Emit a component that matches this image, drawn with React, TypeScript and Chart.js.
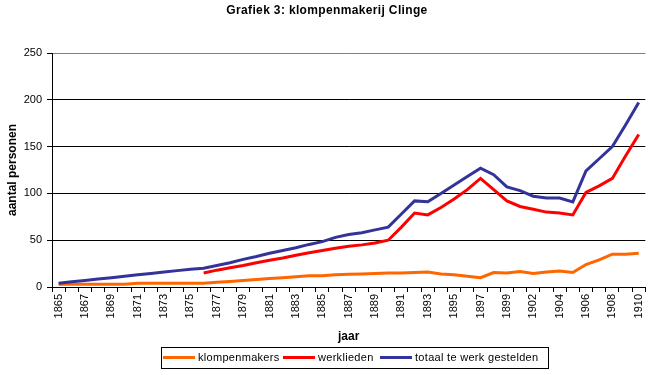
import React, { useEffect, useRef } from "react";
import { Chart, registerables } from "chart.js";

Chart.register(...registerables);

const FONT = '"Liberation Sans", Arial, Helvetica, sans-serif';

const chartTitle = "Grafiek 3: klompenmakerij Clinge";
const xTitle = "jaar";
const yTitle = "aantal personen";

const years = [
  "1865", "1866", "1867", "1868", "1869", "1870", "1871", "1872", "1873", "1874",
  "1875", "1876", "1877", "1878", "1879", "1880", "1881", "1882", "1883", "1884",
  "1885", "1886", "1887", "1888", "1889", "1890", "1891", "1892", "1893", "1894",
  "1895", "1896", "1897", "1898", "1899", "1900", "1902", "1903", "1904", "1905",
  "1906", "1907", "1908", "1909", "1910",
];

const klompenmakers = [
  3, 3, 3, 3, 3, 3, 4, 4, 4, 4,
  4, 4, 5, 6, 7, 8, 9, 10, 11, 12,
  12, 13, 13.5, 14, 14.5, 15, 15, 15.5, 16, 14,
  13, 11.5, 10, 15.5, 15, 16.5, 14.5, 16, 17, 15.5,
  24, 29, 35, 35, 36,
];

const werklieden = [
  null, null, null, null, null, null, null, null, null, null,
  null, 15, 18, 20.5, 23, 26, 28.5, 31, 34, 36.5,
  39, 41.5, 43.5, 45, 47, 50, 64, 79, 77, 85,
  94, 104, 116, 104, 92, 86, 83, 80, 79, 77,
  101, 108, 116, 140, 163,
];

const totaal = [
  4, 5.5, 7, 8.5, 10, 11.5, 13, 14.5, 16, 17.5,
  19, 20, 23, 26, 29.5, 32.5, 36, 39, 42, 45.5,
  48.5, 53, 56, 58, 61, 64, 78, 92, 91, 100,
  109, 118, 127, 120, 107, 103, 97, 95, 95, 91,
  124, 137, 150, 173, 197,
];

const seriesNames = ["klompenmakers", "werklieden", "totaal te werk gestelden"];
const seriesColors = ["#FF6600", "#FF0000", "#333399"];

const overlayPlugin = {
  id: "overlay",
  afterDraw(chart: any) {
    const ctx = chart.ctx as CanvasRenderingContext2D;
    ctx.save();
    // Title
    ctx.fillStyle = "#000";
    ctx.font = `bold 12px ${FONT}`;
    (ctx as any).letterSpacing = "0.35px";
    ctx.textAlign = "center";
    ctx.textBaseline = "middle";
    ctx.fillText(chartTitle, 327, 11);
    (ctx as any).letterSpacing = "0px";

    // Legend box
    const boxL = 161.5, boxT = 347.5, boxR = 548.5, boxB = 368.5;
    ctx.strokeStyle = "#000";
    ctx.lineWidth = 1;
    ctx.strokeRect(boxL, boxT, boxR - boxL, boxB - boxT);

    const lineStarts = [163, 283, 380];
    const lineLen = 32;
    const textGap = 3;
    const cy = 358;
    ctx.font = `11px ${FONT}`;
    ctx.textAlign = "left";
    ctx.textBaseline = "middle";
    (ctx as any).letterSpacing = "0.3px";
    for (let i = 0; i < seriesNames.length; i++) {
      const x0 = lineStarts[i];
      ctx.strokeStyle = seriesColors[i];
      ctx.lineWidth = 3;
      ctx.beginPath();
      ctx.moveTo(x0, cy - 0.5);
      ctx.lineTo(x0 + lineLen, cy - 0.5);
      ctx.stroke();
      ctx.fillStyle = "#000";
      ctx.fillText(seriesNames[i], x0 + lineLen + textGap, cy);
    }
    ctx.restore();
  },
};

export default function App() {
  const canvasRef = useRef<HTMLCanvasElement | null>(null);

  useEffect(() => {
    const canvas = canvasRef.current;
    if (!canvas) return;
    const seriesData = [klompenmakers, werklieden, totaal];
    const chart = new Chart(canvas, {
      type: "line",
      data: {
        labels: years,
        datasets: seriesData.map((d, i) => ({
          label: seriesNames[i],
          data: d,
          borderColor: seriesColors[i],
          backgroundColor: seriesColors[i],
          borderWidth: 3,
          pointRadius: 0,
          pointHoverRadius: 0,
          tension: 0,
          fill: false,
          spanGaps: false,
          order: 2 - i,
        })),
      },
      options: {
        responsive: false,
        animation: false,
        devicePixelRatio: 1,
        events: [],
        layout: { padding: { top: 53, right: 7, bottom: 31, left: 0 } },
        plugins: {
          legend: { display: false },
          title: { display: false },
          tooltip: { enabled: false },
        },
        scales: {
          x: {
            type: "category",
            offset: true,
            grid: {
              offset: true,
              drawOnChartArea: false,
              drawTicks: true,
              tickLength: 5,
              color: "#000",
              lineWidth: 1,
            },
            border: { display: true, color: "#000", width: 1 },
            ticks: {
              autoSkip: false,
              maxRotation: 90,
              minRotation: 90,
              padding: 2,
              color: "#000",
              font: { family: FONT, size: 11 },
              callback: (_v: any, i: number) => (i % 2 === 0 ? years[i] : ""),
            },
            title: {
              display: true,
              text: xTitle,
              color: "#000",
              font: { family: FONT, size: 12, weight: "bold" },
              padding: { top: 0, bottom: 0 },
            },
            afterFit: (s: any) => {
              s.height = 57;
            },
          },
          y: {
            min: 0,
            max: 250,
            ticks: {
              stepSize: 50,
              padding: 5,
              color: "#000",
              font: { family: FONT, size: 11 },
            },
            grid: {
              color: (c: any) => (c.tick && c.tick.value === 250 ? "#808080" : "#000"),
              tickColor: "#000",
              tickLength: 5,
              drawTicks: true,
              lineWidth: 1,
            },
            border: { display: true, color: "#000", width: 1 },
            title: {
              display: true,
              text: yTitle,
              color: "#000",
              font: { family: FONT, size: 12, weight: "bold" },
              padding: { top: 5, bottom: 0 },
            },
            afterFit: (s: any) => {
              s.width = 52;
            },
          },
        },
      } as any,
      plugins: [overlayPlugin],
    });
    return () => chart.destroy();
  }, []);

  return (
    <div style={{ position: "fixed", left: 0, top: 0, width: 654, height: 375, background: "#fff" }}>
      <canvas ref={canvasRef} width={654} height={375} style={{ width: 654, height: 375, display: "block" }} />
    </div>
  );
}
